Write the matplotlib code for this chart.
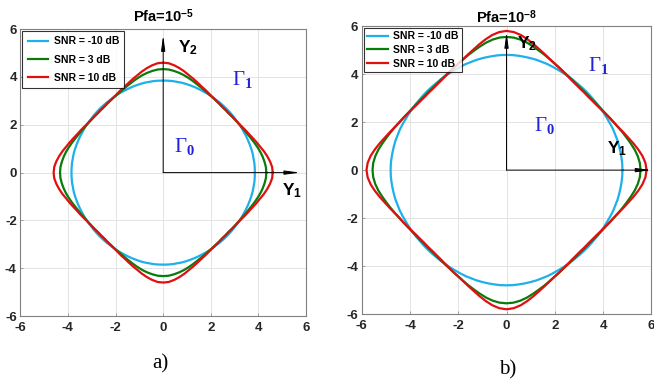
import numpy as np
import matplotlib
matplotlib.use("Agg")
import matplotlib.pyplot as plt

plt.rcParams["font.family"] = ["Liberation Sans", "DejaVu Sans"]
plt.rcParams["axes.unicode_minus"] = False
plt.rcParams["mathtext.fontset"] = "custom"
plt.rcParams["mathtext.rm"] = "Liberation Serif"
plt.rcParams["mathtext.it"] = "Liberation Serif:italic"
plt.rcParams["mathtext.bf"] = "Liberation Serif:bold"
plt.rcParams["mathtext.sf"] = "Liberation Sans:bold"

# radius of each decision boundary, read at angles 0..90 deg (3 deg steps),
# the curves are symmetric in all four quadrants
angles = np.arange(0, 91, 3)

r_a_m10 = [3.85, 3.85, 3.85, 3.84, 3.84, 3.83, 3.82, 3.81, 3.80, 3.79, 3.79, 3.78, 3.77, 3.77, 3.77, 3.77,
           3.77, 3.77, 3.77, 3.78, 3.79, 3.79, 3.80, 3.81, 3.82, 3.83, 3.84, 3.84, 3.85, 3.85, 3.85]
r_a_3 = [4.33, 4.32, 4.28, 4.23, 4.17, 4.10, 4.03, 3.96, 3.90, 3.85, 3.80, 3.77, 3.74, 3.72, 3.70, 3.70,
         3.70, 3.72, 3.74, 3.77, 3.80, 3.85, 3.90, 3.96, 4.03, 4.10, 4.17, 4.23, 4.28, 4.32, 4.33]
r_a_10 = [4.60, 4.58, 4.51, 4.42, 4.32, 4.21, 4.12, 4.03, 3.95, 3.89, 3.83, 3.78, 3.75, 3.73, 3.71, 3.71,
          3.71, 3.73, 3.75, 3.78, 3.83, 3.89, 3.95, 4.03, 4.12, 4.21, 4.32, 4.42, 4.51, 4.58, 4.60]

r_b_m10 = [4.80, 4.80, 4.79, 4.78, 4.77, 4.76, 4.74, 4.73, 4.71, 4.69, 4.68, 4.67, 4.66, 4.65, 4.65, 4.65,
           4.65, 4.65, 4.66, 4.67, 4.68, 4.69, 4.71, 4.73, 4.74, 4.76, 4.77, 4.78, 4.79, 4.80, 4.80]
r_b_3 = [5.55, 5.53, 5.47, 5.38, 5.27, 5.16, 5.06, 4.96, 4.87, 4.80, 4.73, 4.68, 4.64, 4.61, 4.59, 4.59,
         4.59, 4.61, 4.64, 4.68, 4.73, 4.80, 4.87, 4.96, 5.06, 5.16, 5.27, 5.38, 5.47, 5.53, 5.55]
r_b_10 = [5.80, 5.76, 5.66, 5.52, 5.37, 5.22, 5.09, 4.97, 4.87, 4.79, 4.72, 4.66, 4.61, 4.58, 4.56, 4.56,
          4.56, 4.58, 4.61, 4.66, 4.72, 4.79, 4.87, 4.97, 5.09, 5.22, 5.37, 5.52, 5.66, 5.76, 5.80]

labels = ["SNR = -10 dB", "SNR = 3 dB", "SNR = 10 dB"]
colors = ["#1DB0EA", "#0A7A0A", "#E01010"]
titles = ["Pfa=10$^{\\mathsf{-5}}$", "Pfa=10$^{\\mathsf{-8}}$"]
ticks = [-6, -4, -2, 0, 2, 4, 6]
gamma_blue = "#2222DD"


def closed_curve(r):
    r = np.array(r)
    th = np.radians(angles)
    # walk the four quadrants
    x = np.concatenate([r * np.cos(th), -r[::-1] * np.cos(th[::-1]), -r * np.cos(th), r[::-1] * np.cos(th[::-1])])
    y = np.concatenate([r * np.sin(th), r[::-1] * np.sin(th[::-1]), -r * np.sin(th), -r[::-1] * np.sin(th[::-1])])
    return x, y


fig = plt.figure(figsize=(6.54, 3.84), dpi=100)
axA = fig.add_axes([0.031, 0.177, 0.437, 0.747])
axB = fig.add_axes([0.553, 0.182, 0.443, 0.750])

panels = [(axA, [r_a_m10, r_a_3, r_a_10]), (axB, [r_b_m10, r_b_3, r_b_10])]

for n, (ax, curves) in enumerate(panels):
    for r, lab, col in zip(curves, labels, colors):
        x, y = closed_curve(r)
        ax.plot(x, y, color=col, lw=1.6, label=lab)
    ax.set_xlim(-6, 6)
    ax.set_ylim(-6, 6)
    ax.set_xticks(ticks)
    ax.set_yticks(ticks)
    ax.grid(True, color="#E3E3E3", lw=0.7)
    ax.set_axisbelow(True)
    ax.tick_params(direction="in", length=2, width=0.5, colors="#808080", labelcolor="#262626",
                   labelsize=9.5)
    ax.tick_params(axis="x", pad=4)
    ax.tick_params(axis="y", pad=2.5)
    for lbl in ax.get_xticklabels() + ax.get_yticklabels():
        lbl.set_fontweight("bold")
    for sp in ax.spines.values():
        sp.set_color("#808080")
        sp.set_linewidth(0.8)
    ax.set_title(titles[n], fontsize=10.5, fontweight="bold", pad=5 if n == 0 else 2.5)
    leg = ax.legend(loc="upper left", prop={"weight": "bold", "size": 7.5},
                    frameon=True, fancybox=False, borderaxespad=0.2, handlelength=2.0,
                    labelspacing=0.8 if n == 0 else 0.35, borderpad=0.5 if n == 0 else 0.3,
                    handletextpad=0.5)
    leg.get_frame().set_edgecolor("black")
    leg.get_frame().set_linewidth(0.8)

arrow = dict(arrowstyle="-|>,head_length=0.9,head_width=0.12", color="black", lw=0.7, shrinkA=0, shrinkB=0)

# panel a) annotations
axA.annotate("", xy=(0, 5.75), xytext=(0, 0), arrowprops=arrow)
axA.annotate("", xy=(5.75, 0), xytext=(0, 0), arrowprops=arrow)
axA.text(0.62, 5.0, "Y$_{\\mathsf{2}}$", fontsize=12.5, fontweight="bold")
axA.text(5.0, -0.95, "Y$_{\\mathsf{1}}$", fontsize=12.5, fontweight="bold")
axA.text(2.9, 3.67, "$\\Gamma_\\mathbf{1}$", fontsize=15, color=gamma_blue)
axA.text(0.45, 0.88, "$\\Gamma_\\mathbf{0}$", fontsize=15, color=gamma_blue)

# panel b) annotations
axB.annotate("", xy=(0, 5.75), xytext=(0, 0), arrowprops=arrow)
axB.annotate("", xy=(6.0, 0), xytext=(0, 0), arrowprops=arrow)
axB.text(0.45, 5.07, "Y$_{\\mathsf{2}}$", fontsize=12.5, fontweight="bold")
axB.text(4.18, 0.68, "Y$_{\\mathsf{1}}$", fontsize=12.5, fontweight="bold")
axB.text(3.39, 4.15, "$\\Gamma_\\mathbf{1}$", fontsize=15, color=gamma_blue)
axB.text(1.12, 1.64, "$\\Gamma_\\mathbf{0}$", fontsize=15, color=gamma_blue)

fig.text(0.245, 0.04, "a)", fontsize=15, family="Liberation Serif", ha="center")
fig.text(0.776, 0.025, "b)", fontsize=15, family="Liberation Serif", ha="center")

fig.savefig("out.png", dpi=100)
